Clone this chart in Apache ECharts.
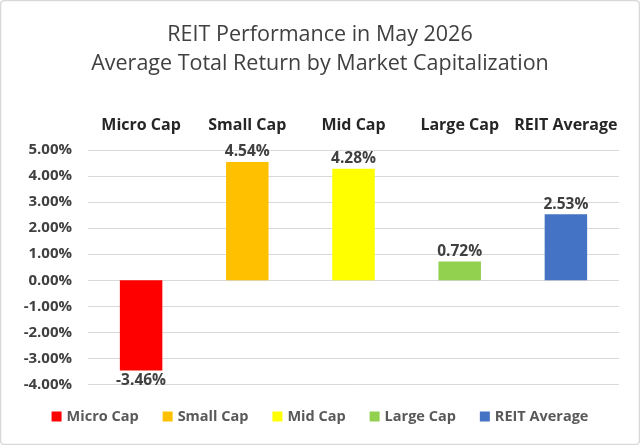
<!DOCTYPE html>
<html>
<head>
<meta charset="utf-8">
<script src="https://cdn.jsdelivr.net/npm/echarts@6/dist/echarts.min.js"></script>
<style>
  html, body { margin: 0; padding: 0; background: #fff; }
  #chart { width: 640px; height: 445px; }
</style>
</head>
<body>
<div id="chart"></div>
<script>
const categories = ['Micro Cap', 'Small Cap', 'Mid Cap', 'Large Cap', 'REIT Average']
const returns = [-3.46, 4.54, 4.28, 0.72, 2.53]
const yTicks = { min: -4, max: 5, step: 1 }
const barColors = ['#FF0000', '#FFC000', '#FFFF00', '#92D050', '#4472C4']

const fontFamily = '"Open Sans", "Noto Sans", sans-serif'

const chart = echarts.init(document.getElementById('chart'))

// one series per category so the legend lists each bar
const series = categories.map((name, i) => ({
  name: name,
  type: 'bar',
  stack: 'one',
  barWidth: '40%',
  itemStyle: { color: barColors[i] },
  label: {
    show: true,
    position: returns[i] < 0 ? 'bottom' : 'top',
    distance: 2,
    formatter: p => p.value.toFixed(2) + '%',
    color: '#404040',
    fontWeight: 'bold',
    fontSize: 15.5,
    fontFamily: fontFamily
  },
  data: categories.map((c, j) => (j === i ? returns[i] : '-'))
}))

const option = {
  backgroundColor: '#fff',
  animation: false,
  textStyle: { fontFamily: fontFamily },
  title: {
    text: 'REIT Performance in May 2026\nAverage Total Return by Market Capitalization',
    left: 'center',
    top: 15,
    textStyle: {
      color: '#404040',
      fontWeight: 'normal',
      fontSize: 21.5,
      lineHeight: 29,
      fontFamily: fontFamily
    }
  },
  graphic: [{
    type: 'rect',
    shape: { x: 0.5, y: 0.5, width: 639, height: 444, r: 4 },
    style: { fill: 'none', stroke: '#D9D9D9', lineWidth: 1.5 },
    silent: true
  }],
  legend: {
    bottom: 16,
    left: 'center',
    itemWidth: 10,
    itemHeight: 10,
    itemGap: 24,
    icon: 'rect',
    textStyle: { color: '#595959', fontWeight: 'bold', fontSize: 14.5, fontFamily: fontFamily },
    data: categories
  },
  grid: { left: 88, right: 21, top: 150, bottom: 60.5 },
  xAxis: {
    type: 'category',
    position: 'top',
    data: categories,
    axisLine: { show: false },
    axisTick: { show: false },
    axisLabel: {
      interval: 0,
      margin: 17,
      color: '#262626',
      fontWeight: 'bold',
      fontSize: 16,
      fontFamily: fontFamily
    }
  },
  yAxis: {
    type: 'value',
    min: yTicks.min,
    max: yTicks.max,
    interval: yTicks.step,
    axisLine: { show: false },
    axisTick: { show: false },
    splitLine: { lineStyle: { color: '#D9D9D9', width: 1 } },
    axisLabel: {
      margin: 16,
      formatter: v => v.toFixed(2) + '%',
      color: '#404040',
      fontWeight: 'bold',
      fontSize: 15,
      fontFamily: fontFamily
    }
  },
  series: series
}

chart.setOption(option)
window.addEventListener('resize', () => chart.resize())
</script>
</body>
</html>
